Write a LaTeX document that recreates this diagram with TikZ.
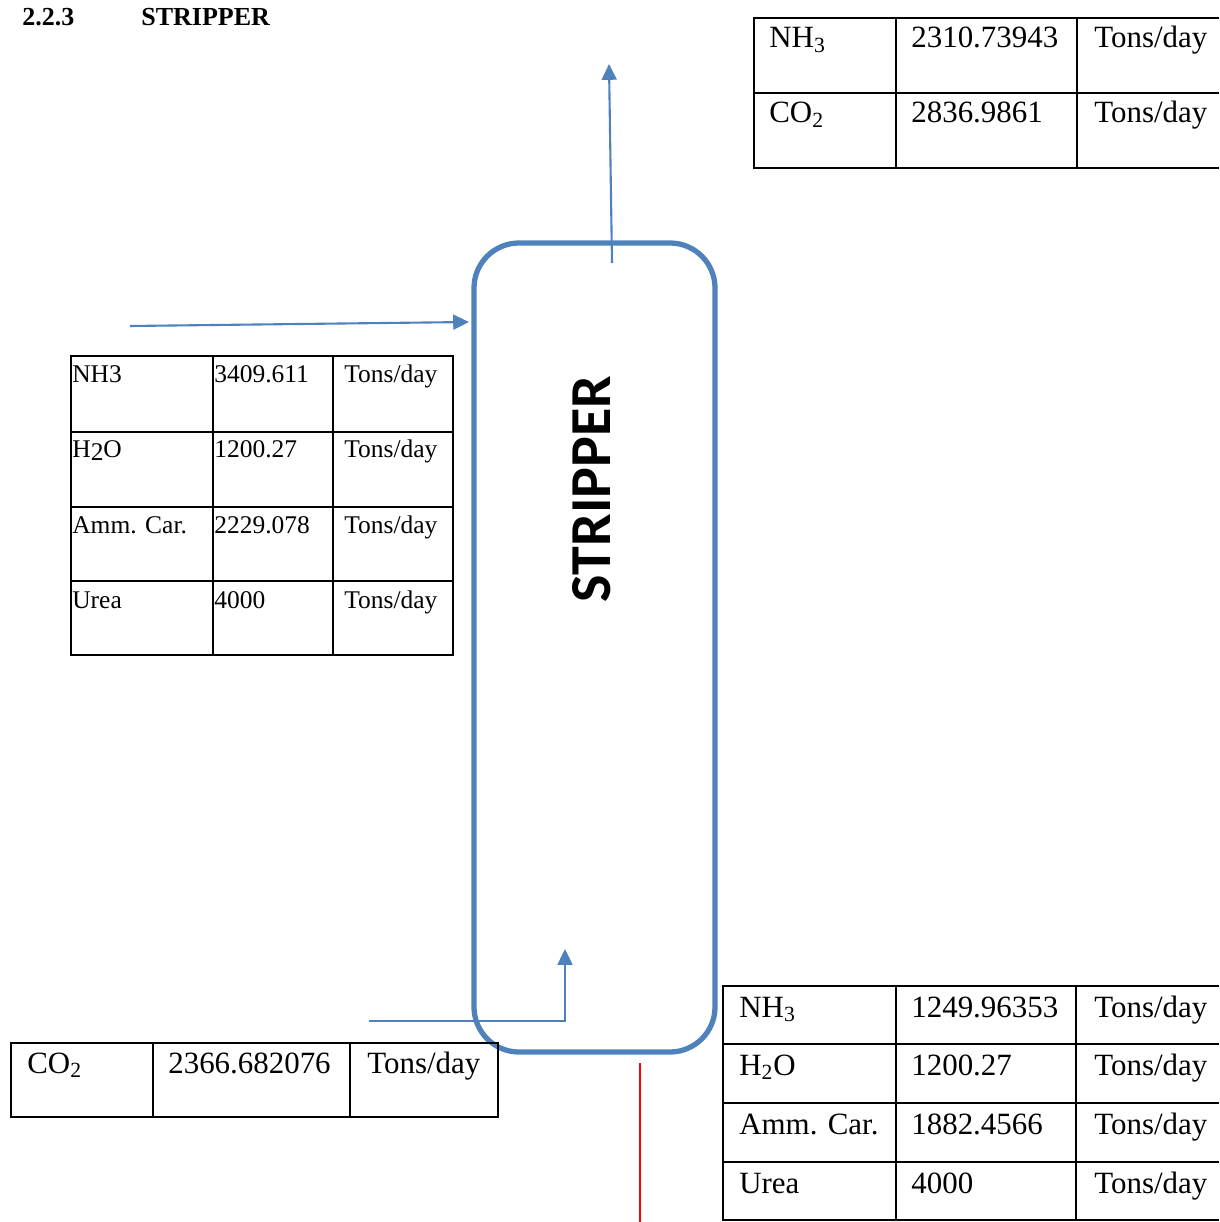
\documentclass[tikz,border=0pt]{standalone}
\usepackage{fontspec}
\setmainfont{Liberation Serif}
\newfontfamily\calib{Carlito}
\usetikzlibrary{arrows.meta}
\definecolor{ofblue}{HTML}{4F81BD}
\tikzset{
  tline/.style={line width=1.1pt, black},
  big/.style={anchor=base west, inner sep=0pt, font=\fontsize{17.6pt}{20pt}\selectfont},
  small/.style={anchor=base west, inner sep=0pt, font=\fontsize{14.5pt}{17pt}\selectfont},
  flow/.style={line width=1.2pt, ofblue, -{Triangle[length=9pt,width=8.5pt]}},
}
\begin{document}
\begin{tikzpicture}[x=0.02cm,y=-0.02cm]
\useasboundingbox (0,0) rectangle (1219,1222);
% title
\node[anchor=base west, inner sep=0pt, font=\bfseries\fontsize{14.8pt}{17pt}\selectfont] (num) at (22,26) {2.2.3};
\node[anchor=base west, inner sep=0pt, font=\bfseries\fontsize{14.8pt}{17pt}\selectfont] (ttl) at (141,26) {STRIPPER};
% stripper
\node[draw=ofblue, line width=3pt, rounded corners=45*0.02cm, minimum width=241*0.02cm, minimum height=809*0.02cm, inner sep=0pt] (strip) at (594.5,647.5) {};
\node[rotate=90, inner sep=0pt, font=\calib\bfseries\fontsize{33pt}{36pt}\selectfont] (lbl) at (592,489) {STRIPPER};
% connectors
\coordinate (topin) at (612,263);
\coordinate (topout) at (609,64);
\draw[flow] (topin) -- (topout);
\coordinate (feed) at (130,326);
\coordinate (feedin) at (469,322);
\draw[flow] (feed) -- (feedin);
\coordinate (co2) at (369,1021);
\coordinate (co2in) at (565,949);
\draw[flow] (co2) -| (co2in);
\coordinate (redtop) at (640,1063);
\coordinate (redbot) at (640,1222);
\draw[red, line width=1.1pt] (redtop) -- (redbot);
% top-right table
\draw[tline] (1219,18) -- (754,18) -- (754,168) -- (1219,168);
\draw[tline] (754,93) -- (1219,93);
\draw[tline] (896,18) -- (896,168);
\draw[tline] (1077,18) -- (1077,168);
\node[big] (a1) at (769,48) {NH\textsubscript{3}};
\node[big] (a2) at (911,48) {2310.73943};
\node[big] (a3) at (1094,48) {Tons/day};
\node[big] (a4) at (769,123) {CO\textsubscript{2}};
\node[big] (a5) at (911,123) {2836.9861};
\node[big] (a6) at (1094,123) {Tons/day};
% left table
\draw[tline] (71,356) rectangle (453,655);
\foreach \yy in {432,507,581} \draw[tline] (71,\yy) -- (453,\yy);
\draw[tline] (213,356) -- (213,655);
\draw[tline] (333,356) -- (333,655);
\node[small] (b1) at (72,383) {NH3};
\node[small] (b2) at (214,383) {3409.611};
\node[small] (b3) at (344,383) {Tons/day};
\node[small] (b4) at (72,458) {H\raisebox{-0.2ex}{2}O};
\node[small] (b5) at (214,458) {1200.27};
\node[small] (b6) at (344,458) {Tons/day};
\node[small] (b7) at (72,533) {Amm. Car.};
\node[small] (b8) at (214,533) {2229.078};
\node[small] (b9) at (344,533) {Tons/day};
\node[small] (b10) at (72,608) {Urea};
\node[small] (b11) at (214,608) {4000};
\node[small] (b12) at (344,608) {Tons/day};
% bottom-left table
\draw[tline] (11,1043) rectangle (498,1117);
\draw[tline] (153,1043) -- (153,1117);
\draw[tline] (350,1043) -- (350,1117);
\node[big] (c1) at (27,1073) {CO\textsubscript{2}};
\node[big] (c2) at (168,1073) {2366.682076};
\node[big] (c3) at (367,1073) {Tons/day};
% bottom-right table
\draw[tline] (1219,986) -- (723,986) -- (723,1220) -- (1219,1220);
\foreach \yy in {1044,1103,1162} \draw[tline] (723,\yy) -- (1219,\yy);
\draw[tline] (896,986) -- (896,1220);
\draw[tline] (1076,986) -- (1076,1220);
\node[big] (d1) at (739,1017) {NH\textsubscript{3}};
\node[big] (d2) at (911,1017) {1249.96353};
\node[big] (d3) at (1094,1017) {Tons/day};
\node[big] (d4) at (739,1075) {H\textsubscript{2}O};
\node[big] (d5) at (911,1075) {1200.27};
\node[big] (d6) at (1094,1075) {Tons/day};
\node[big] (d7) at (739,1134) {Amm. Car.};
\node[big] (d8) at (911,1134) {1882.4566};
\node[big] (d9) at (1094,1134) {Tons/day};
\node[big] (d10) at (739,1193) {Urea};
\node[big] (d11) at (911,1193) {4000};
\node[big] (d12) at (1094,1193) {Tons/day};
\end{tikzpicture}
\end{document}
